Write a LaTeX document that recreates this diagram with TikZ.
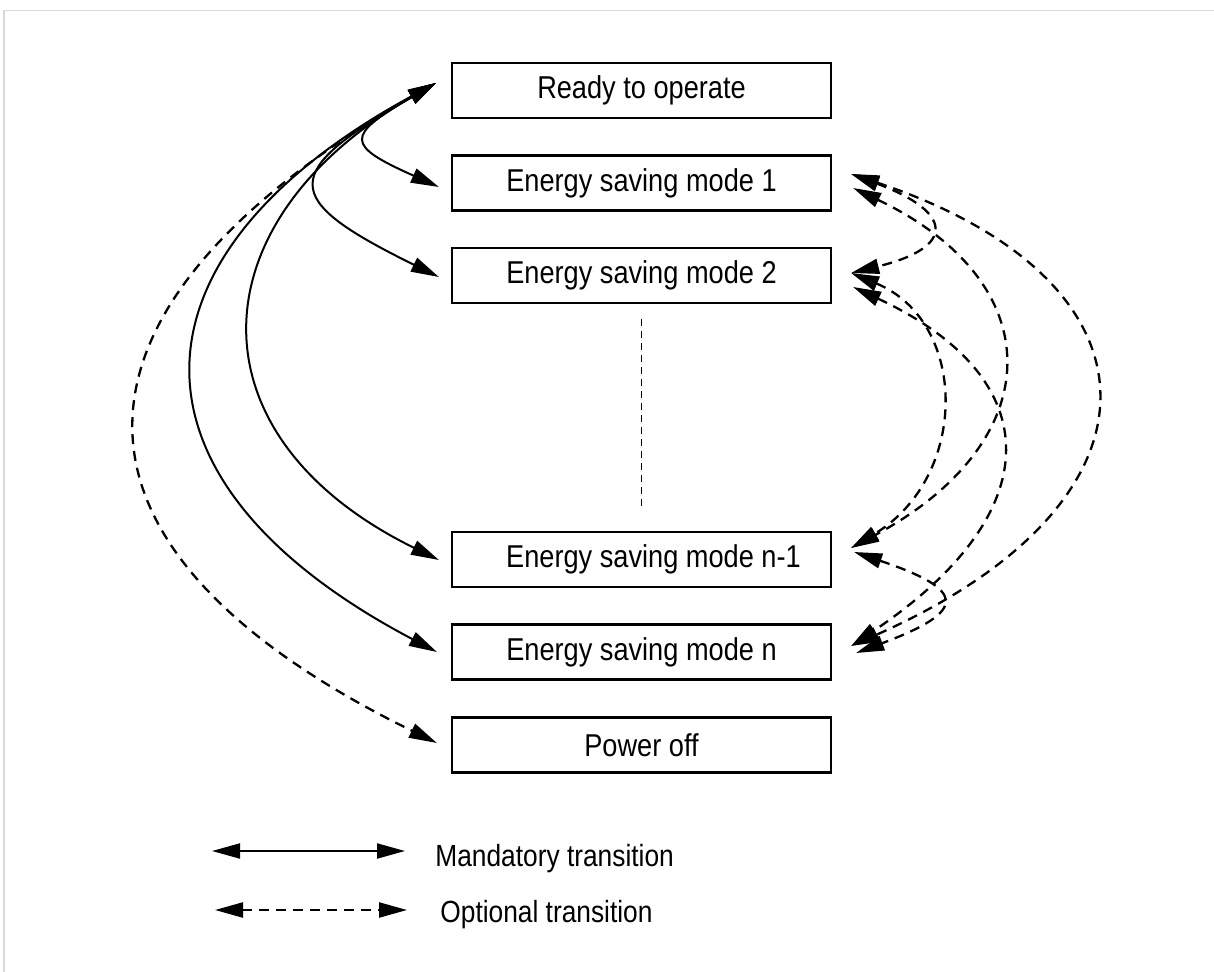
\documentclass[tikz,border=0pt]{standalone}
\usepackage{fontspec}
\setmainfont{Liberation Sans}[FakeStretch=0.86]
\usetikzlibrary{arrows.meta}
\begin{document}
\begin{tikzpicture}[x=0.5pt,y=-0.5pt,
  box/.style={draw, line width=1.1pt, minimum width=189.5pt, minimum height=27.5pt, inner sep=0pt, font=\fontsize{15.8}{18}\selectfont},
  mand/.style={line width=1pt, {Triangle[length=14pt,width=7.5pt]}-{Triangle[length=14pt,width=7.5pt]}},
  opt/.style={mand, line width=1.15pt, dash pattern=on 5pt off 3.5pt},
  vdots/.style={line width=0.8pt, dash pattern=on 3.5pt off 2.5pt},
  legtext/.style={anchor=base west, inner sep=0pt, font=\fontsize{15.3}{18}\selectfont},
  frame/.style={draw=black!15, line width=0.75pt}
]
\useasboundingbox (0,0) rectangle (1214,972);
\draw[frame] (4,972) -- (4,10.5) -- (1214,10.5);

% boxes
\node[box] (ready) at (641.5,90.5) {Ready to operate};
\node[box] (esm1) at (641.5,183) {Energy saving mode 1};
\node[box] (esm2) at (641.5,275.5) {Energy saving mode 2};
\node[box] (esmn1) at (641.5,559.5) {\hspace*{12pt}Energy saving mode n-1};
\node[box] (esmn) at (641.5,652) {Energy saving mode n};
\node[box] (off) at (641.5,745) {Power off};

\draw[vdots] ([yshift=-7.5pt]esm2.south) -- ([yshift=10pt]esmn1.north);

% left anchor points
\coordinate (rs) at ([shift={(-15,-7.5)}]ready.west);
\coordinate (e1L) at ([shift={(-12,4)}]esm1.west);
\coordinate (e2L) at ([shift={(-12,1.5)}]esm2.west);
\coordinate (en1L) at ([shift={(-12,0.5)}]esmn1.west);
\coordinate (enL) at ([shift={(-14,0)}]esmn.west);
\coordinate (offL) at ([shift={(-14,-2)}]off.west);

\draw[mand] (rs) .. controls (345,136) and (345,145) .. (e1L);
\draw[mand] (rs) .. controls (280,173) and (278,198) .. (e2L);
\draw[mand] (rs) .. controls (193,223) and (188,437) .. (en1L);
\draw[mand] (rs) .. controls (120,255) and (110,480) .. (enL);
\draw[opt] (rs) .. controls (45,308) and (33,545) .. (offL);

% right anchor points
\coordinate (e1a) at ([shift={(19,-9)}]esm1.east);
\coordinate (e1b) at ([shift={(21,5)}]esm1.east);
\coordinate (e2a) at ([shift={(19,-2.5)}]esm2.east);
\coordinate (e2b) at ([shift={(21,11.5)}]esm2.east);
\coordinate (en1a) at ([shift={(19,-11.5)}]esmn1.east);
\coordinate (en1b) at ([shift={(22,-7.5)}]esmn1.east);
\coordinate (ena) at ([shift={(19,-6)}]esmn.east);
\coordinate (enb) at ([shift={(24,1)}]esmn.east);

\draw[opt] (e1a) .. controls (1170,280) and (1180,500) .. (ena);
\draw[opt] (e1b) .. controls (1052,283) and (1050,441) .. (en1a);
\draw[opt] (e1a) .. controls (953,212) and (957,247) .. (e2a);
\draw[opt] (e2a) .. controls (969,322) and (969,477) .. (en1a);
\draw[opt] (e2b) .. controls (1050,379) and (1049,513) .. (ena);
\draw[opt] (en1b) .. controls (967,590) and (968,611) .. (enb);

% legend
\coordinate (m1) at (212,851);
\coordinate (m2) at (405,851);
\draw[mand] (m1) -- (m2);
\node[legtext] (mtext) at (435,866) {Mandatory transition};
\coordinate (o1) at (215,910);
\coordinate (o2) at (407,910);
\draw[opt] (o1) -- (o2);
\node[legtext] (otext) at (440,922) {Optional transition};
\end{tikzpicture}
\end{document}
